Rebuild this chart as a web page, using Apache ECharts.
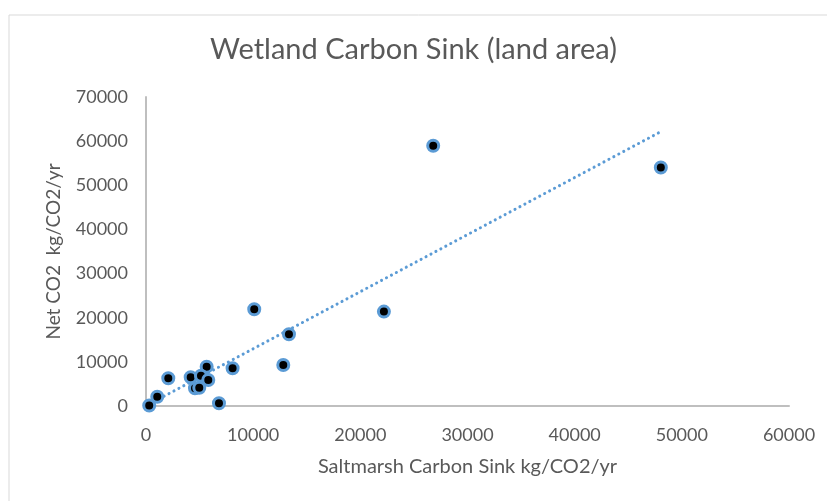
<!DOCTYPE html>
<html>
<head>
<meta charset="utf-8">
<script src="https://cdn.jsdelivr.net/npm/echarts@6/dist/echarts.min.js"></script>
<style>
  html, body { margin: 0; padding: 0; background: #fff; }
  #chart { width: 827px; height: 501px; }
</style>
</head>
<body>
<div id="chart"></div>
<script>
// saltmarsh sink (x) vs net CO2 (y)
var sinkX = [300, 1050, 2080, 4170, 5660, 5130, 5810, 4570, 4970, 6810, 8080, 10100, 13340, 12810, 22200, 26800, 48040]
var netY = [100, 2100, 6280, 6500, 8910, 6870, 5900, 4010, 4150, 610, 8550, 21930, 16260, 9300, 21380, 58960, 54040]
var xTicks = [0, 60000, 10000]
var yTicks = [0, 70000, 10000]

var points = sinkX.map(function (x, i) { return [x, netY[i]] })

// linear trendline (least squares), drawn over the data range
var n = sinkX.length
var mx = sinkX.reduce(function (a, b) { return a + b }, 0) / n
var my = netY.reduce(function (a, b) { return a + b }, 0) / n
var sxy = 0, sxx = 0
for (var i = 0; i < n; i++) {
  sxy += (sinkX[i] - mx) * (netY[i] - my)
  sxx += (sinkX[i] - mx) * (sinkX[i] - mx)
}
var slope = sxy / sxx
var icpt = my - slope * mx
var xmin = Math.min.apply(null, sinkX)
var xmax = Math.max.apply(null, sinkX)
var trend = [[xmin, icpt + slope * xmin], [xmax, icpt + slope * xmax]]

var font = 'Lato, "Open Sans", sans-serif'
var plain = function (v) { return String(v) }

var chart = echarts.init(document.getElementById('chart'))
var option = {
  animation: false,
  graphic: [{
    type: 'rect',
    shape: { x: 9, y: 15, width: 830, height: 500 },
    style: { fill: 'none', stroke: '#d9d9d9', lineWidth: 1 },
    silent: true
  }],
  title: {
    text: 'Wetland Carbon Sink (land area)',
    left: 'center',
    top: 30,
    textStyle: { fontFamily: font, fontSize: 29, fontWeight: 'normal', color: '#595959' }
  },
  grid: { left: 146, right: 38, top: 97, bottom: 95 },
  xAxis: {
    type: 'value',
    min: xTicks[0], max: xTicks[1], interval: xTicks[2],
    name: 'Saltmarsh Carbon Sink kg/CO2/yr',
    nameLocation: 'middle',
    nameGap: 51,
    nameTextStyle: { fontFamily: font, fontSize: 20, color: '#595959' },
    axisLine: { lineStyle: { color: '#bfbfbf', width: 2 } },
    axisTick: { show: false },
    splitLine: { show: false },
    axisLabel: { fontFamily: font, fontSize: 18, color: '#595959', margin: 20, formatter: plain }
  },
  yAxis: {
    type: 'value',
    min: yTicks[0], max: yTicks[1], interval: yTicks[2],
    name: 'Net CO2  kg/CO2/yr',
    nameLocation: 'middle',
    nameGap: 83,
    nameTextStyle: { fontFamily: font, fontSize: 19, color: '#595959' },
    axisLine: { show: true, lineStyle: { color: '#bfbfbf', width: 2 } },
    axisTick: { show: false },
    splitLine: { show: false },
    axisLabel: { fontFamily: font, fontSize: 18, color: '#595959', margin: 18, formatter: plain }
  },
  series: [
    {
      type: 'line',
      data: trend,
      symbol: 'none',
      z: 1,
      lineStyle: { color: '#5b9bd5', width: 3, type: [0.1, 5.5], cap: 'round' }
    },
    {
      type: 'scatter',
      data: points,
      symbolSize: 11,
      z: 2,
      itemStyle: { color: '#000', borderColor: '#5b9bd5', borderWidth: 3, opacity: 1 }
    }
  ]
}
chart.setOption(option)
</script>
</body>
</html>
